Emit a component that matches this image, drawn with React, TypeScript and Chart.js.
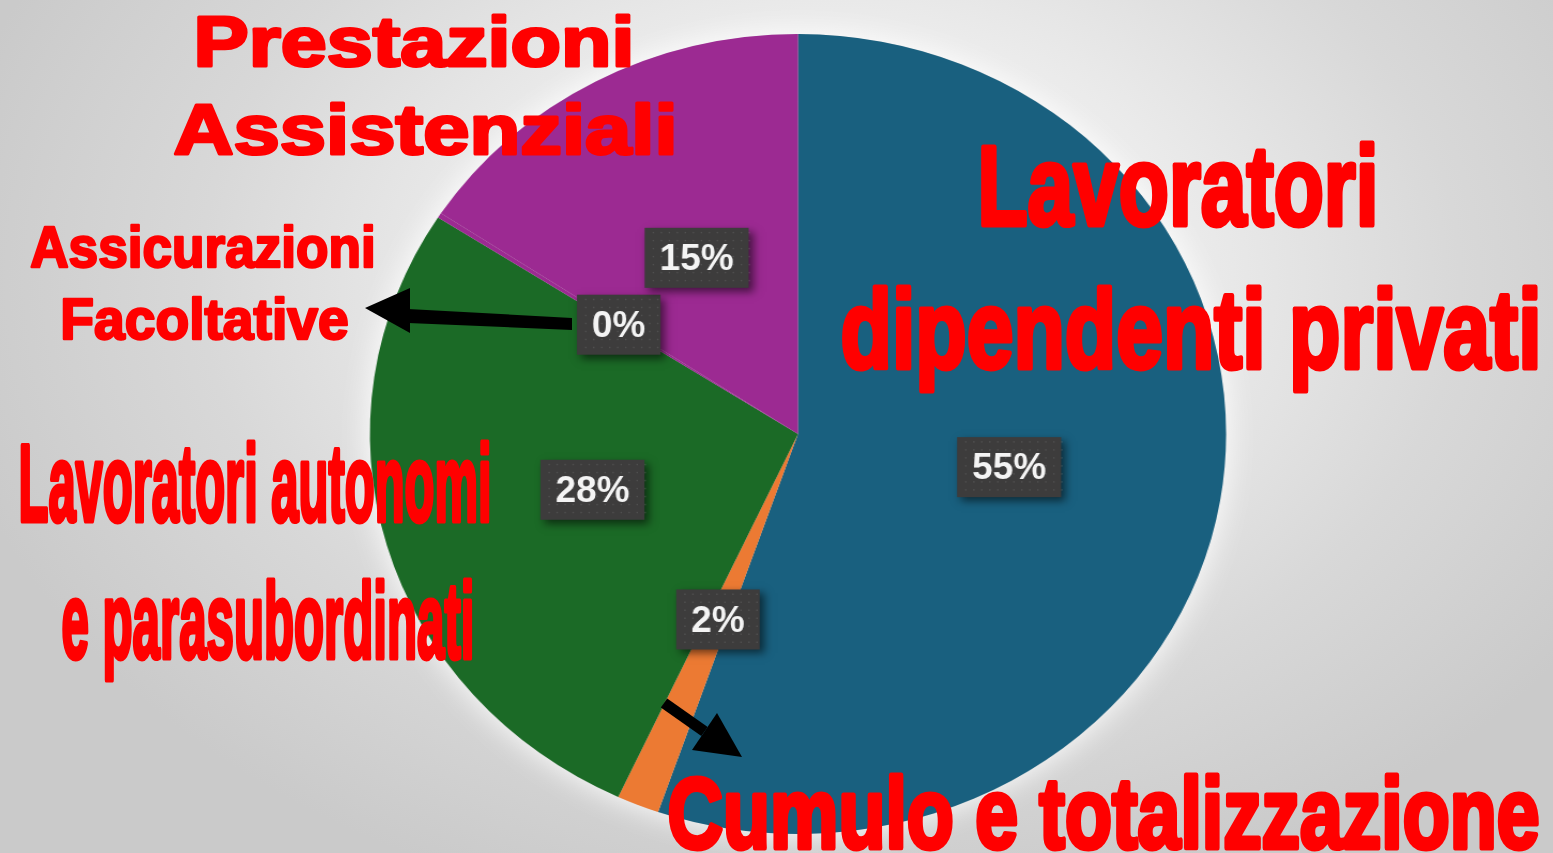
import React, { useEffect, useRef } from "react";
import { Chart, registerables } from "chart.js";

Chart.register(...registerables);

// ---- data ----
const categories = [
  "Lavoratori dipendenti privati",
  "Cumulo e totalizzazione",
  "Lavoratori autonomi e parasubordinati",
  "Assicurazioni Facoltative",
  "Prestazioni Assistenziali",
];
const shares = [55.3, 1.6, 27.2, 0.2, 15.7];
const shareLabels = ["55%", "2%", "28%", "0%", "15%"];
const sliceColors = ["#19607f", "#ec7a33", "#1b6a26", "#9c2a92", "#9c2a92"];

// ---- layout ----
const W = 1553;
const H = 853;
const STRETCH = 1.0703; // the reference pie is slightly wider than tall
const CW = Math.round(W / STRETCH);
const CX = 798 / STRETCH;
const R = 400;
const TOP = 34;

const haloPlugin = {
  id: "halo",
  beforeDatasetsDraw(chart: any) {
    const meta = chart.getDatasetMeta(0);
    const arc: any = meta.data[0];
    if (!arc) return;
    const ctx = chart.ctx;
    ctx.save();
    ctx.beginPath();
    ctx.arc(arc.x, arc.y, arc.outerRadius, 0, Math.PI * 2);
    ctx.shadowColor = "rgba(255,255,255,1)";
    ctx.shadowBlur = 30;
    ctx.fillStyle = "#dddddd";
    ctx.fill();
    ctx.restore();
  },
};

const labelBoxPlugin = {
  id: "labelBoxes",
  afterDatasetsDraw(chart: any) {
    const ctx = chart.ctx;
    const meta = chart.getDatasetMeta(0);
    meta.data.forEach((arc: any, i: number) => {
      const { x, y } = arc.tooltipPosition(false);
      const text = shareLabels[i];
      ctx.save();
      ctx.translate(x, y);
      ctx.scale(1 / STRETCH, 1);
      ctx.font = 'bold 37px "Liberation Sans", Arial, sans-serif';
      const tw = ctx.measureText(text).width;
      const bw = tw + 30;
      const bh = 60;
      ctx.shadowColor = "rgba(0,0,0,0.55)";
      ctx.shadowBlur = 8;
      ctx.shadowOffsetX = 4;
      ctx.shadowOffsetY = 4;
      ctx.fillStyle = "#3d3c3c";
      ctx.fillRect(-bw / 2, -bh / 2, bw, bh);
      ctx.shadowColor = "transparent";
      ctx.shadowBlur = 0;
      ctx.shadowOffsetX = 0;
      ctx.shadowOffsetY = 0;
      ctx.fillStyle = "rgba(120,120,120,0.35)";
      for (let yy = -bh / 2 + 4; yy < bh / 2; yy += 8) {
        for (let xx = -bw / 2 + 4 + ((yy / 8) % 2 ? 4 : 0); xx < bw / 2; xx += 8) {
          ctx.fillRect(xx, yy, 1.5, 1.5);
        }
      }
      ctx.fillStyle = "#f4f4f4";
      ctx.textAlign = "center";
      ctx.textBaseline = "middle";
      ctx.fillText(text, 0, 2);
      ctx.restore();
    });
  },
};

function Label(props: { x: number; y: number; size: number; len: number; sw: number; children: string }) {
  return (
    <text
      x={props.x + props.sw / 2}
      y={props.y - props.sw / 2}
      fontSize={props.size - props.sw}
      textLength={props.len - props.sw}
      lengthAdjust="spacingAndGlyphs"
      fontFamily='"Liberation Sans", Arial, sans-serif'
      fontWeight="bold"
      fill="#ff0000"
      stroke="#ff0000"
      strokeWidth={props.sw}
      strokeLinejoin="round"
    >
      {props.children}
    </text>
  );
}

export default function App() {
  const ref = useRef<HTMLCanvasElement | null>(null);

  useEffect(() => {
    document.body.style.margin = "0";
    const canvas = ref.current;
    if (!canvas) return;
    const chart = new Chart(canvas, {
      type: "pie",
      data: {
        labels: categories,
        datasets: [
          {
            data: shares,
            backgroundColor: sliceColors,
            borderWidth: 0,
          },
        ],
      },
      options: {
        animation: false,
        responsive: false,
        layout: {
          padding: {
            left: CX - R,
            right: CW - (CX + R),
            top: TOP,
            bottom: H - (TOP + 2 * R),
          },
        },
        plugins: {
          legend: { display: false },
          tooltip: { enabled: false },
          title: { display: false },
        },
      },
      plugins: [haloPlugin, labelBoxPlugin],
    });
    return () => chart.destroy();
  }, []);

  return (
    <div
      style={{
        position: "fixed",
        left: 0,
        top: 0,
        width: W,
        height: H,
        overflow: "hidden",
        background:
          "radial-gradient(ellipse 900px 650px at 830px 280px, #f8f8f8 0%, #ebebeb 40%, #d8d8d8 70%, #cacaca 100%)",
      }}
    >
      <div
        style={{
          position: "absolute",
          left: 0,
          top: 0,
          width: CW,
          height: H,
          transform: `scaleX(${STRETCH})`,
          transformOrigin: "0 0",
        }}
      >
        <canvas ref={ref} width={CW} height={H} style={{ width: CW, height: H, display: "block" }} />
      </div>
      <svg
        width={W}
        height={H}
        style={{ position: "absolute", left: 0, top: 0 }}
        xmlns="http://www.w3.org/2000/svg"
      >
        <Label x={192} y={67} size={72.6} len={444} sw={3}>Prestazioni</Label>
        <Label x={172} y={155} size={72.6} len={507} sw={3}>Assistenziali</Label>
        <Label x={29} y={268} size={60} len={348} sw={2.5}>Assicurazioni</Label>
        <Label x={59} y={340} size={60} len={291} sw={2.5}>Facoltative</Label>
        <Label x={975} y={227} size={118.7} len={406} sw={5}>Lavoratori</Label>
        <Label x={838} y={370} size={117} len={706} sw={5}>dipendenti privati</Label>
        <Label x={16} y={523} size={114.5} len={478} sw={5}>Lavoratori autonomi</Label>
        <Label x={59} y={660} size={112.5} len={418} sw={5}>e parasubordinati</Label>
        <Label x={665} y={850} size={104.7} len={877} sw={5}>Cumulo e totalizzazione</Label>

        <polygon points="572,318 572,330 408,323 408,309" fill="#000" />
        <polygon points="365,308 410,288 410,333" fill="#000" />
        <polygon points="660.8,707.5 667.2,698.5 707.7,727 701.3,736" fill="#000" />
        <polygon points="742,757 717,713 692,750" fill="#000" />
      </svg>
    </div>
  );
}
